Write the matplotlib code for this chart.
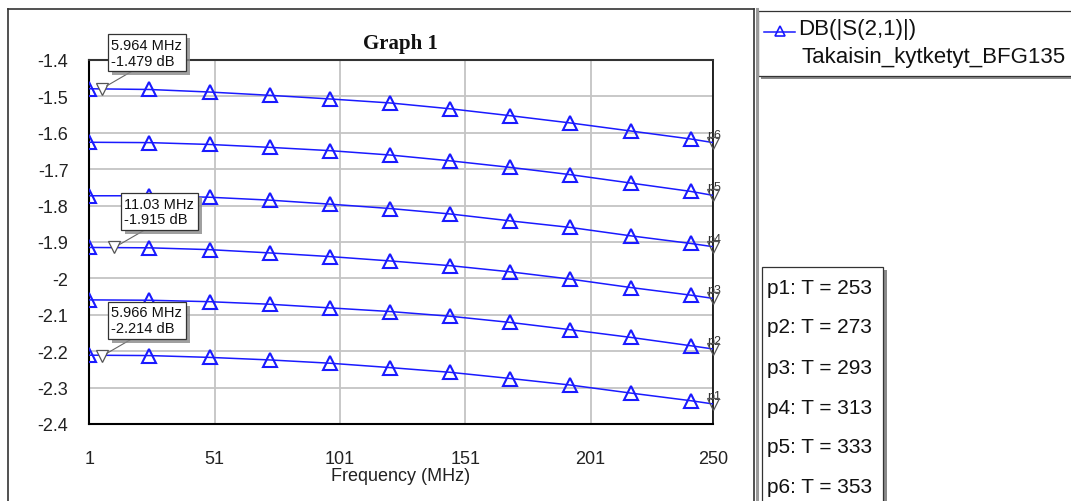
import matplotlib
matplotlib.use("Agg")
import matplotlib.pyplot as plt
from matplotlib.lines import Line2D
from matplotlib.patches import Rectangle
import matplotlib.patheffects as pe

# ---------------- data ----------------
freq = [1, 25, 49, 73, 97, 121, 145, 169, 193, 217, 241, 250]
p1 = [-2.211, -2.212, -2.217, -2.224, -2.233, -2.245, -2.258, -2.275, -2.293, -2.315, -2.336, -2.345]
p2 = [-2.059, -2.060, -2.064, -2.071, -2.081, -2.091, -2.104, -2.121, -2.141, -2.162, -2.185, -2.194]
p3 = [-1.915, -1.916, -1.921, -1.930, -1.940, -1.952, -1.965, -1.982, -2.002, -2.025, -2.046, -2.055]
p4 = [-1.773, -1.773, -1.777, -1.785, -1.796, -1.808, -1.823, -1.842, -1.860, -1.883, -1.904, -1.913]
p5 = [-1.626, -1.627, -1.632, -1.640, -1.649, -1.661, -1.677, -1.695, -1.715, -1.738, -1.761, -1.772]
p6 = [-1.479, -1.481, -1.488, -1.497, -1.507, -1.518, -1.534, -1.553, -1.573, -1.595, -1.617, -1.627]
series = [p1, p2, p3, p4, p5, p6]
series_names = ["p1", "p2", "p3", "p4", "p5", "p6"]
temps = [253, 273, 293, 313, 333, 353]

x_ticks = [1, 51, 101, 151, 201, 250]
y_ticks = [-1.4, -1.5, -1.6, -1.7, -1.8, -1.9, -2.0, -2.1, -2.2, -2.3, -2.4]
y_tick_labels = ["-1.4", "-1.5", "-1.6", "-1.7", "-1.8", "-1.9", "-2", "-2.1", "-2.2", "-2.3", "-2.4"]

marker_freq = [5.964, 11.03, 5.966]
marker_db = [-1.479, -1.915, -2.214]

title = "Graph 1"
xlabel = "Frequency (MHz)"
legend_name = "DB(|S(2,1)|)"
legend_source = "Takaisin_kytketyt_BFG135"

# ---------------- figure ----------------
W, H = 1071, 502
plt.rcParams['font.family'] = ['Liberation Sans', 'DejaVu Sans']
fig = plt.figure(figsize=(W / 100, H / 100), dpi=100)
fig.patch.set_facecolor("white")


def fx(x):
    return x / W


def fy(y):
    return 1 - y / H


ax_l, ax_r, ax_t, ax_b = 89.3, 713.3, 61.0, 425.0
ax = fig.add_axes([fx(ax_l), fy(ax_b), fx(ax_r) - fx(ax_l), fy(ax_t) - fy(ax_b)])
ax.set_xlim(1, 250)
ax.set_ylim(-2.4, -1.4)

blue = "#1a1aff"
for s in series:
    ax.plot(freq, s, color=blue, lw=1.1, marker="^", markersize=9.5,
            markerfacecolor="none", markeredgecolor=blue, markeredgewidth=1.5,
            markevery=slice(0, len(freq) - 1), zorder=3)

# end markers with labels
for s, name in zip(series, series_names):
    ax.plot([freq[-1]], [s[-1]], marker="v", markersize=8, markerfacecolor="none",
            markeredgecolor="#555555", markeredgewidth=0.9, clip_on=False, zorder=4)
    ax.annotate(name, xy=(freq[-1], s[-1]), xytext=(-6, 2), textcoords="offset pixels",
                fontsize=9, color="#333333", ha="left", va="bottom", annotation_clip=False)

# marker annotations
for mf, md in zip(marker_freq, marker_db):
    ax.plot([mf], [md], marker="v", markersize=8, markerfacecolor="white",
            markeredgecolor="#555555", markeredgewidth=0.9, zorder=5)
    ann = ax.annotate(f"{mf:g} MHz\n{md:g} dB", xy=(mf, md), xytext=(45, 36),
                      textcoords="offset pixels", fontsize=10.5, color="#111111",
                      ha="center", va="center", multialignment="left", linespacing=1.15,
                      annotation_clip=False, zorder=6,
                      bbox=dict(boxstyle="square,pad=0.25", fc="white", ec="#333333", lw=0.9),
                      arrowprops=dict(arrowstyle="-", color="#666666", lw=0.8,
                                      shrinkA=0, shrinkB=4, relpos=(0.38, 0.0)))
    ann.get_bbox_patch().set_path_effects([pe.SimplePatchShadow(offset=(3, -3), shadow_rgbFace="#888888", alpha=0.8), pe.Normal()])

ax.set_xticks(x_ticks)
ax.set_xticklabels([str(t) for t in x_ticks])
ax.set_yticks(y_ticks)
ax.set_yticklabels(y_tick_labels)
ax.tick_params(axis="both", length=0, labelsize=13, colors="#222222")
ax.tick_params(axis="x", pad=19)
ax.tick_params(axis="y", pad=15)
ax.grid(True, color="#c4c4c4", lw=1.3)
ax.set_axisbelow(True)
for sp in ax.spines.values():
    sp.set_color("black")
    sp.set_linewidth(1.5)
ax.spines["top"].set_color("#333333")
ax.spines["right"].set_linewidth(1.2)

# title & axis label
fig.text(fx(400), fy(44), title, fontsize=15, fontweight="bold",
         family="Liberation Serif", ha="center", va="center", color="#111111")
fig.text(fx(401), fy(477), xlabel, fontsize=13, ha="center", va="center", color="#222222")

# window frame
fig.add_artist(Line2D([fx(8), fx(8)], [fy(10), fy(H + 2)], transform=fig.transFigure, color="#333333", lw=1.2))
fig.add_artist(Line2D([fx(8), fx(754)], [fy(10), fy(10)], transform=fig.transFigure, color="#333333", lw=1.2))
fig.add_artist(Line2D([fx(754), fx(754)], [fy(10), fy(H + 2)], transform=fig.transFigure, color="#333333", lw=1.2))
fig.add_artist(Line2D([fx(756.5), fx(756.5)], [fy(10), fy(H + 2)], transform=fig.transFigure, color="#9a9a9a", lw=2.2))

# legend box 1
fig.add_artist(Rectangle((fx(761), fy(80)), fx(1075) - fx(761), fy(15) - fy(80),
                         transform=fig.transFigure, fc="#8a8a8a", ec="none"))
fig.add_artist(Rectangle((fx(758), fy(77)), fx(1075) - fx(758), fy(12) - fy(77),
                         transform=fig.transFigure, fc="white", ec="#333333", lw=0.9))
fig.add_artist(Line2D([fx(764), fx(795)], [fy(33), fy(33)], transform=fig.transFigure,
                      color=blue, lw=1.1))
fig.add_artist(Line2D([fx(780)], [fy(32)], transform=fig.transFigure, marker="^",
                      markersize=7, markerfacecolor="none", markeredgecolor=blue,
                      markeredgewidth=1.2, lw=0))
fig.text(fx(798), fy(30), legend_name, fontsize=16, ha="left", va="center", color="#111111")
fig.text(fx(802), fy(58), legend_source, fontsize=16, ha="left", va="center", color="#111111")

# legend box 2
fig.add_artist(Rectangle((fx(765), fy(H + 5)), fx(887) - fx(765), fy(271) - fy(H + 5),
                         transform=fig.transFigure, fc="#8a8a8a", ec="none"))
fig.add_artist(Rectangle((fx(762), fy(H + 5)), fx(883) - fx(762), fy(268) - fy(H + 5),
                         transform=fig.transFigure, fc="white", ec="#333333", lw=0.9))
for i, (name, t) in enumerate(zip(series_names, temps)):
    fig.text(fx(767), fy(288 + 40 * i), f"{name}: T = {t}", fontsize=15, ha="left",
             va="center", color="#111111")

fig.savefig("out.png", dpi=100)
